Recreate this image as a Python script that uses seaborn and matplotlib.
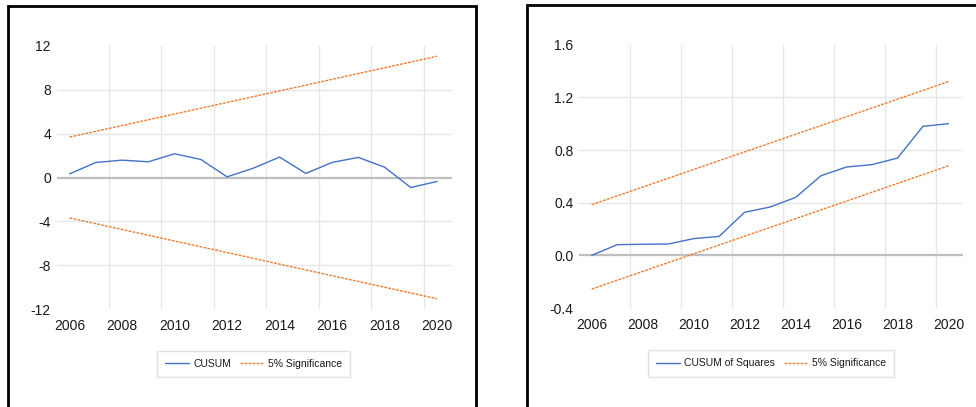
import numpy as np
import pandas as pd
import matplotlib
matplotlib.use("Agg")
import matplotlib.pyplot as plt
import seaborn as sns
from matplotlib.patches import Rectangle
from matplotlib.lines import Line2D

# ---- data ----
years = [2006, 2007, 2008, 2009, 2010, 2011, 2012, 2013, 2014, 2015, 2016, 2017, 2018, 2019, 2020]
cusum = [0.33, 1.37, 1.58, 1.43, 2.16, 1.64, 0.06, 0.85, 1.86, 0.37, 1.37, 1.83, 0.94, -0.91, -0.36]
cusum_sq = [0.0, 0.081, 0.084, 0.086, 0.127, 0.144, 0.327, 0.367, 0.44, 0.605, 0.671, 0.689, 0.739, 0.98, 1.0]

bound_years = [2006, 2020]
cusum_upper = [3.68, 11.04]
cusum_lower = [-3.68, -11.04]
sq_upper = [0.385, 1.32]
sq_lower = [-0.256, 0.68]

xtick_years = [2006, 2008, 2010, 2012, 2014, 2016, 2018, 2020]
cusum_yticks = [-12, -8, -4, 0, 4, 8, 12]
sq_yticks = [-0.4, 0.0, 0.4, 0.8, 1.2, 1.6]

BLUE = "#4472C4"
ORANGE = "#ED7D31"
GRID = "#e6e6e6"
TEXT = "#1a1a1a"
DASH = (0, (2.0, 0.9))

sns.set_theme(style="white")
plt.rcParams['font.family'] = ['Liberation Sans', 'DejaVu Sans']

W, H = 976, 407
fig = plt.figure(figsize=(W / 100, H / 100), dpi=100)


def panel(rect, main, main_label, upper, lower, yticks, fmt, ylim, leg_center):
    ax = fig.add_axes(rect)
    df_main = pd.DataFrame({"year": years, "value": main})
    df_up = pd.DataFrame({"year": bound_years, "value": upper})
    df_lo = pd.DataFrame({"year": bound_years, "value": lower})
    sns.lineplot(data=df_main, x="year", y="value", ax=ax, color=BLUE, lw=1.0, zorder=4)
    sns.lineplot(data=df_up, x="year", y="value", ax=ax, color=ORANGE, lw=1.0,
                 linestyle=DASH, zorder=3)
    sns.lineplot(data=df_lo, x="year", y="value", ax=ax, color=ORANGE, lw=1.0,
                 linestyle=DASH, zorder=3)
    ax.set_xlim(2005.5, 2020.57)
    ax.set_ylim(*ylim)
    ax.set_xticks(xtick_years)
    ax.set_xticklabels([str(y) for y in xtick_years])
    ax.set_yticks(yticks)
    ax.set_yticklabels([fmt(v) for v in yticks])
    for y in xtick_years[:-1]:
        ax.axvline(y + 1.5, color=GRID, lw=1.0, zorder=0)
    for v in yticks[1:-1]:
        if v == 0:
            ax.axhline(0, color="#bfbfbf", lw=1.6, zorder=1)
        else:
            ax.axhline(v, color=GRID, lw=1.0, zorder=0)
    for s in ax.spines.values():
        s.set_visible(False)
    ax.tick_params(axis="both", length=0, labelsize=10, colors=TEXT, pad=4)
    ax.tick_params(axis="x", pad=7)
    ax.set_xlabel("")
    ax.set_ylabel("")
    ax.grid(False)
    handles = [Line2D([], [], color=BLUE, lw=1.0),
               Line2D([], [], color=ORANGE, lw=1.0, linestyle=DASH)]
    leg = ax.legend(handles, [main_label, "5% Significance"], loc="center",
                    bbox_to_anchor=leg_center, bbox_transform=fig.transFigure,
                    ncol=2, frameon=True, fancybox=False, fontsize=7.5,
                    handlelength=2.3, handletextpad=0.4, columnspacing=0.8,
                    borderpad=0.8, borderaxespad=0)
    leg.get_frame().set_edgecolor("#d9d9d9")
    leg.get_frame().set_linewidth(1.0)
    for t in leg.get_texts():
        t.set_color(TEXT)
    return ax


panel([56.5 / W, 1 - 309.3 / H, 395.5 / W, (309.3 - 45.7) / H],
      cusum, "CUSUM", cusum_upper, cusum_lower, cusum_yticks,
      lambda v: f"{v:d}", (-12, 12), (253.5 / W, 1 - 364 / H))

panel([579 / W, 1 - 308 / H, 384 / W, (308 - 44.7) / H],
      cusum_sq, "CUSUM of Squares", sq_upper, sq_lower, sq_yticks,
      lambda v: f"{v:.1f}", (-0.4, 1.6), (771 / W, 1 - 363.5 / H))

# panel borders
fig.add_artist(Rectangle((8 / W, -0.05), 468 / W, 1.05 - 6 / H, transform=fig.transFigure,
                         fill=False, edgecolor="black", lw=2.0))
fig.add_artist(Rectangle((527 / W, -0.05), 0.6, 1.05 - 5 / H, transform=fig.transFigure,
                         fill=False, edgecolor="black", lw=2.0))

fig.savefig("out.png", dpi=100)
